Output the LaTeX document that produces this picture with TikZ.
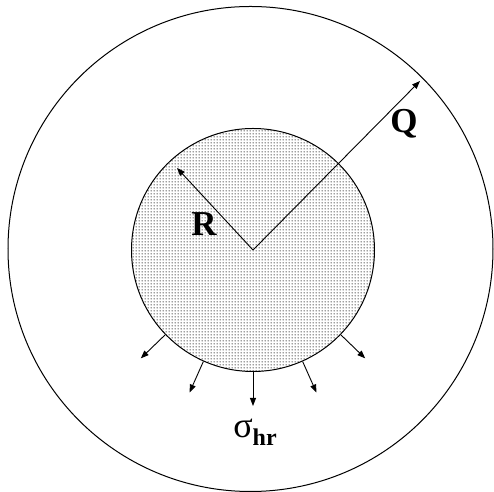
\documentclass[tikz,border=0pt]{standalone}
\usepackage{fontspec}
\setmainfont{Liberation Serif}
\usepackage{tikz}
\usetikzlibrary{arrows.meta,calc,patterns}
\pgfdeclarepatternformonly{finedots}{\pgfpointorigin}{\pgfqpoint{1.5pt}{1.5pt}}{\pgfqpoint{1.5pt}{1.5pt}}{%
  \pgfpathcircle{\pgfqpoint{0.75pt}{0.75pt}}{0.42pt}\pgfusepath{fill}}
\tikzset{
  ring/.style={draw,circle,inner sep=0pt,line width=0.5pt},
  radius arrow/.style={-{Triangle[length=4pt,width=3pt]},line width=0.45pt},
  load arrow/.style={-{Triangle[length=4pt,width=3pt]},line width=0.45pt},
  lbl/.style={font=\fontsize{17.5}{20}\selectfont\bfseries}
}

\begin{document}
\begin{tikzpicture}[x=0.5pt,y=0.5pt]
      \useasboundingbox (0,0) rectangle (494,492);
      \node[ring,minimum size=242.5pt] (outer) at (250.5,243) {};
      \node[ring,minimum size=121.5pt,fill=white,pattern=finedots,pattern color=black!75] (inner) at (253,242) {};
      \coordinate (rtip) at (177,324);
      \coordinate (qtip) at (420,411);
      \draw[radius arrow] (inner.center) -- (rtip);
      \draw[radius arrow] (inner.center) -- (qtip);
      \node[lbl] (rlbl) at (204,268) {R};
      \node[lbl] (qlbl) at (404,368) {Q};
      % radial stresses on the boundary
      \foreach \a in {224,246,270,294,316}
        \draw[load arrow] (inner.\a) -- ($(inner.\a)+(\a:34)$);
      \node (sigma) at (255,60) {\fontsize{18}{20}\selectfont σ\raisebox{-0.5ex}{\fontsize{12}{14}\selectfont\bfseries hr}};
    \end{tikzpicture}
\end{document}
